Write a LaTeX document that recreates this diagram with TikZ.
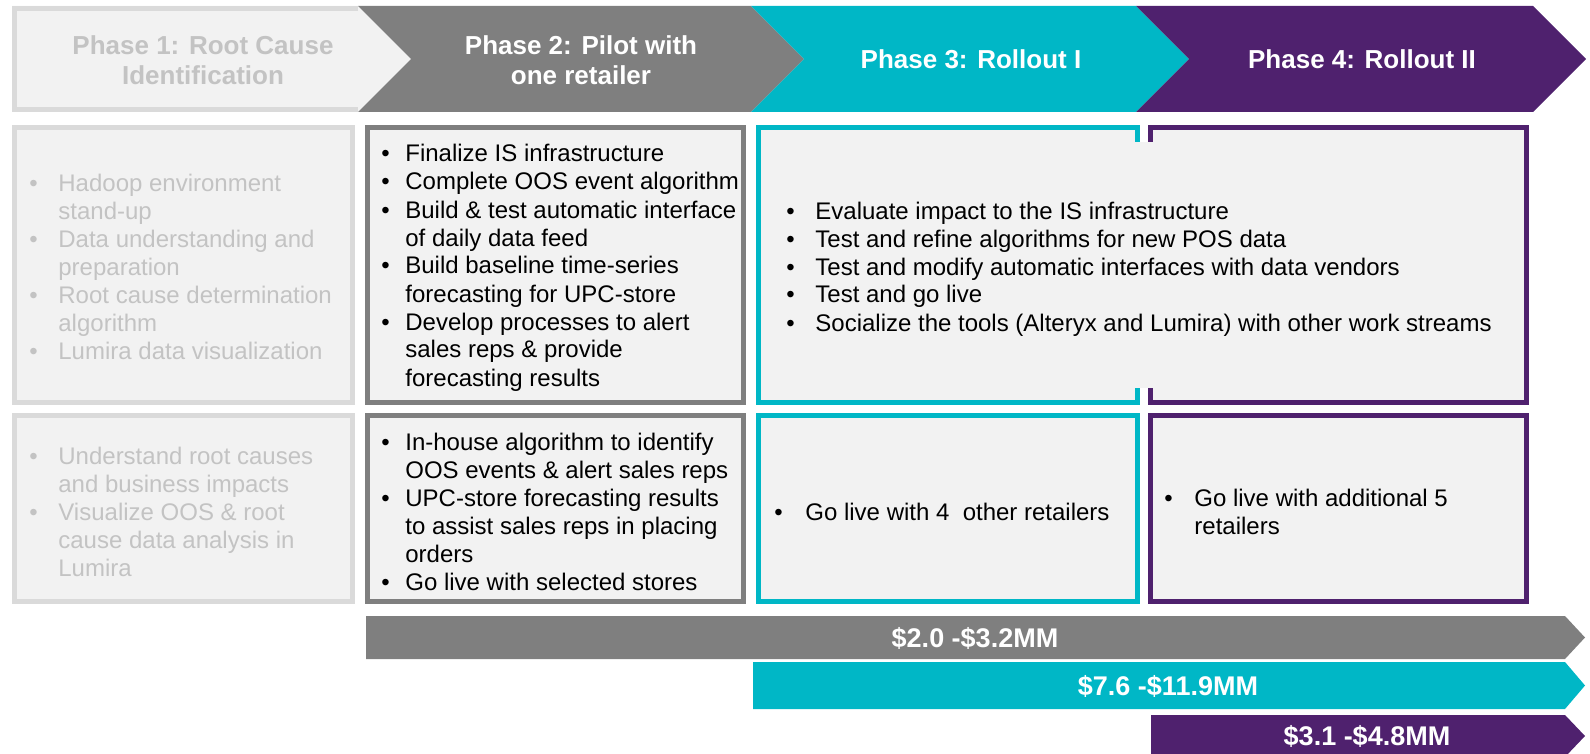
\documentclass[tikz,border=0pt]{standalone}
\usepackage{fontspec}
\setmainfont{Liberation Sans}

\definecolor{pilotgray}{HTML}{7F7F7F}
\definecolor{rollteal}{HTML}{00B7C6}
\definecolor{rollpurple}{HTML}{4F216E}
\definecolor{boxfill}{HTML}{F2F2F2}
\definecolor{rootline}{HTML}{DADADA}
\definecolor{roottext}{HTML}{C3C3C3}

% bullet lists typed line by line
\newlength\bulsep
\newcommand\bl{\makebox[\bulsep][l]{\textbullet}}
\newcommand\cl{\hspace*{\bulsep}}

\begin{document}
\begin{tikzpicture}[
		x=0.5pt, y=-0.5pt,
		phase/.style = {
			font = \fontsize{13}{15}\selectfont\bfseries,
			text = white,
			align = center
		},
		cost/.style = {
			font = \fontsize{13.5}{16}\selectfont\bfseries,
			text = white
		},
		items/.style = {
			anchor = north west,
			inner sep = 0pt,
			align = left,
			font = \fontsize{12}{14}\selectfont,
			execute at begin node = {\global\bulsep=#1}
		},
		items/.default = 14.5pt,
		cell/.style = {
			fill = boxfill,
			draw = #1,
			line width = 2.5pt
		}
	]
	\useasboundingbox (0,0) rectangle (1590,754);

	% phase arrows
	\fill[boxfill] (12,6) -- (358,6) -- (411,59) -- (358,112) -- (12,112) -- cycle;
	\draw[rootline, line width=2.5pt] (358,8.5) -- (14.5,8.5) -- (14.5,109.5) -- (358,109.5);
	\foreach \xl/\xr/\c in {358/751/pilotgray, 751/1136/rollteal, 1136/1533/rollpurple}
		\fill[\c] (\xl,6) -- (\xr,6) -- (\xr+53,59) -- (\xr,112) -- (\xl,112) -- (\xl+53,59) -- cycle;

	\node[phase, text=roottext] (ph1) at (203,60) {Phase 1: Root Cause\\Identification};
	\node[phase]                (ph2) at (581,60) {Phase 2: Pilot with\\one retailer};
	\node[phase]                (ph3) at (971,59) {Phase 3: Rollout I};
	\node[phase]                (ph4) at (1362,59) {Phase 4: Rollout II};

	% activity and outcome boxes
	\draw[cell=rootline]  (14.5,127.5) rectangle (352.5,402.5);
	\draw[cell=rootline]  (14.5,415.5) rectangle (352.5,601.5);
	\draw[cell=pilotgray] (367.5,127.5) rectangle (743.5,402.5);
	\draw[cell=pilotgray] (367.5,415.5) rectangle (743.5,601.5);

	% phases 3 and 4 share one activity box
	\fill[boxfill] (756,125) rectangle (1529,405);
	\fill[white] (1140,125) rectangle (1148,142);
	\fill[white] (1140,388) rectangle (1148,405);
	\draw[rollteal, line width=2.5pt] (1137.5,142) |- (758.5,127.5) |- (1137.5,402.5) -- (1137.5,388);
	\draw[rollpurple, line width=2.5pt] (1150.5,142) |- (1526.5,127.5) |- (1150.5,402.5) -- (1150.5,388);

	\draw[cell=rollteal]   (758.5,415.5) rectangle (1137.5,601.5);
	\draw[cell=rollpurple] (1150.5,415.5) rectangle (1526.5,601.5);

	\node[items, text=roottext] (rootwork) at (29,171) {\strut\bl Hadoop environment\\
		\cl stand-up\\
		\bl Data understanding and\\
		\cl preparation\\
		\bl Root cause determination\\
		\cl algorithm\\
		\bl Lumira data visualization};
	\node[items, text=roottext] (rootgain) at (29,444) {\strut\bl Understand root causes\\
		\cl and business impacts\\
		\bl Visualize OOS \& root\\
		\cl cause data analysis in\\
		\cl Lumira};

	\node[items=12pt] (pilotwork) at (381,142) {\strut\bl Finalize IS infrastructure\\
		\bl Complete OOS event algorithm\\
		\bl Build \& test automatic interface\\
		\cl of daily data feed\\
		\bl Build baseline time-series\\
		\cl forecasting for UPC-store\\
		\bl Develop processes to alert\\
		\cl sales reps \& provide\\
		\cl forecasting results};
	\node[items=12pt] (pilotgain) at (381,430) {\strut\bl In-house algorithm to identify\\
		\cl OOS events \& alert sales reps\\
		\bl UPC-store forecasting results\\
		\cl to assist sales reps in placing\\
		\cl orders\\
		\bl Go live with selected stores};

	\node[items] (rollwork) at (786,199) {\strut\bl Evaluate impact to the IS infrastructure\\
		\bl Test and refine algorithms for new POS data\\
		\bl Test and modify automatic interfaces with data vendors\\
		\bl Test and go live\\
		\bl Socialize the tools (Alteryx and Lumira) with other work streams};
	\node[items=15.5pt] (rollgain1) at (774,500) {\strut\bl Go live with 4~ other retailers};
	\node[items=15pt] (rollgain2) at (1164,486) {\strut\bl Go live with additional 5\\
		\cl retailers};

	% budget bars
	\foreach \xl/\yt/\yb/\c in {366/616/659/pilotgray, 753/662/709/rollteal, 1151/715/757/rollpurple}
		\fill[\c] (\xl,\yt) -- (1565,\yt) -- (1585,{(\yt+\yb)/2}) -- (1565,\yb) -- (\xl,\yb) -- cycle;

	\node[cost] (cost2) at (975,638) {\$2.0 -\$3.2MM};
	\node[cost] (cost3) at (1168,686) {\$7.6 -\$11.9MM};
	\node[cost] (cost4) at (1367,736) {\$3.1 -\$4.8MM};
\end{tikzpicture}
\end{document}
